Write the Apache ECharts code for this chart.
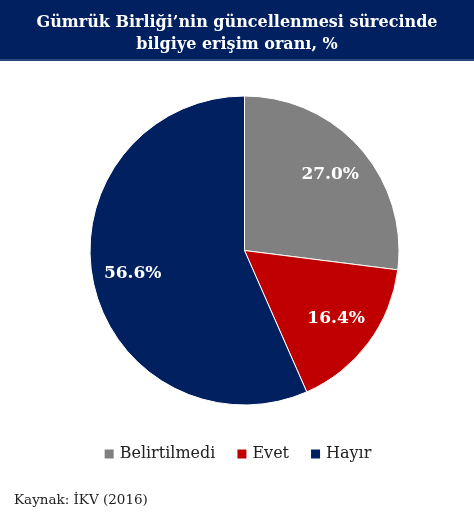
<!DOCTYPE html>
<html><head><meta charset="utf-8">
<script src="https://cdn.jsdelivr.net/npm/echarts@6/dist/echarts.min.js"></script>
<style>html,body{margin:0;padding:0;background:#fff}#c{width:474px;height:520px}</style>
</head><body><div id="c"></div>
<script>
var categories = ['Belirtilmedi', 'Evet', 'Hayır'];
var values = [27.0, 16.4, 56.6];
var colors = ['#808080', '#C00000', '#002060'];
var titleText = 'Gümrük Birliği’nin güncellenmesi sürecinde\nbilgiye erişim oranı, %';
var sourceText = 'Kaynak: İKV (2016)';

var data = categories.map(function (c, i) { return { name: c, value: values[i], itemStyle: { color: colors[i] } }; });
var chart = echarts.init(document.getElementById('c'));
var serif = 'DejaVu Serif';
chart.setOption({
  animation: false,
  graphic: [{
    type: 'rect', left: 0, top: 0, shape: { width: 474, height: 60 },
    style: { fill: '#002060' }, z: 0
  }, {
    type: 'rect', left: 0, top: 59, shape: { width: 474, height: 2 },
    style: { fill: '#2a4a7f' }, z: 0
  }],
  title: [{
    text: titleText, left: 'center', top: 7,
    textStyle: { color: '#fff', fontFamily: serif, fontWeight: 'bold', fontSize: 16, lineHeight: 22 }
  }, {
    text: sourceText, left: 9, top: 488,
    textStyle: { color: '#222', fontFamily: serif, fontWeight: 'normal', fontSize: 13.5 }
  }],
  legend: {
    data: categories, top: 441, left: 'center',
    icon: 'rect', itemWidth: 11, itemHeight: 11, itemGap: 20,
    textStyle: { fontFamily: serif, fontSize: 16, color: '#222' }
  },
  series: [{
    type: 'pie', center: [244.5, 250.5], radius: [0, 154.5],
    startAngle: 90, clockwise: true, data: data,
    label: { show: false }, labelLine: { show: false },
    itemStyle: { borderColor: '#fff', borderWidth: 1 }
  }, {
    type: 'pie', center: [244.5, 250.5], radius: [68, 154.5],
    startAngle: 90, clockwise: true, silent: true, legendHoverLink: false,
    data: categories.map(function (c, i) { return { name: c, value: values[i], itemStyle: { color: 'transparent' } }; }),
    label: {
      show: true, position: 'inside', color: '#fff', fontFamily: serif, fontWeight: 'bold', fontSize: 17,
      formatter: function (p) { return p.value.toFixed(1) + '%'; }
    },
    labelLine: { show: false }, z: 3
  }]
});
</script></body></html>
